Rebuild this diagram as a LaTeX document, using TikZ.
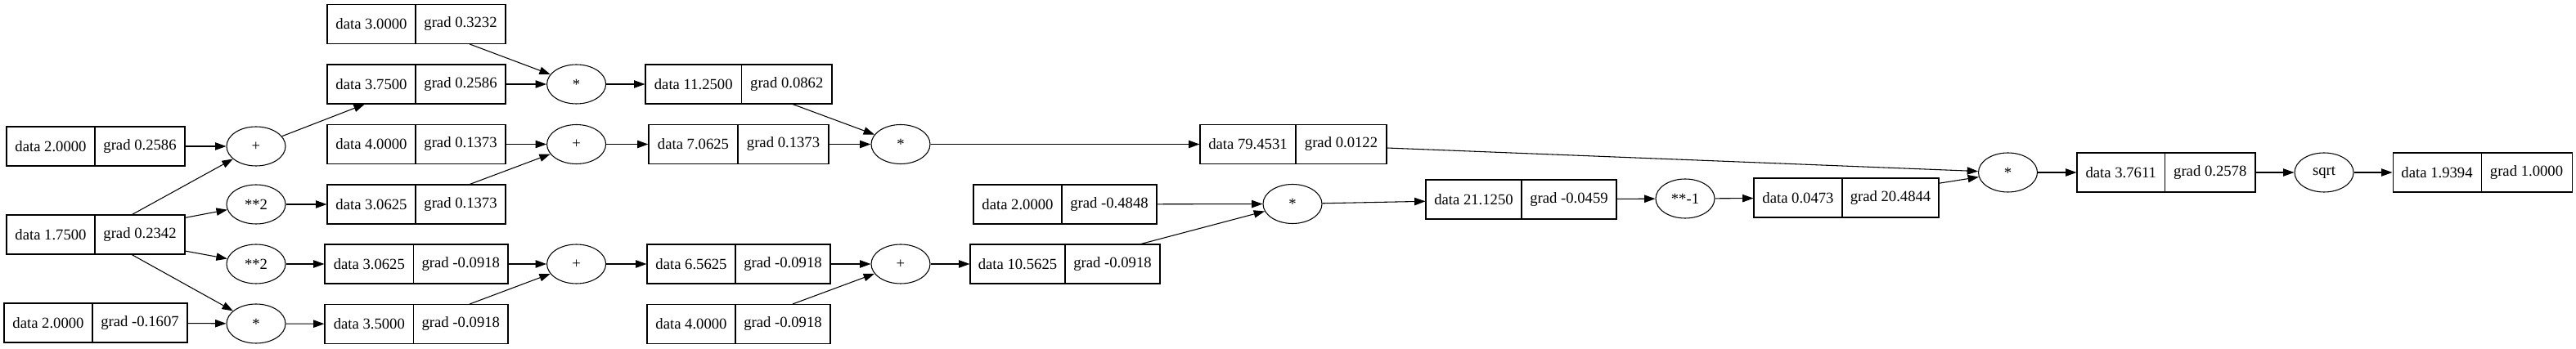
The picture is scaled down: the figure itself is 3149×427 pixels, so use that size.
\documentclass[tikz,border=0pt]{standalone}
\usepackage{fontspec}
\setmainfont{Liberation Serif}
\usetikzlibrary{shapes.geometric,arrows.meta}
\tikzset{
  recbox/.style={draw, line width=0.8pt, rectangle, minimum height=36pt, inner sep=0pt},
  recline/.style={line width=0.8pt},
  rectxt/.style={inner sep=0pt, font=\fontsize{14pt}{16pt}\selectfont},
  opnode/.style={draw, line width=0.8pt, ellipse, minimum width=54pt, minimum height=36pt, inner sep=0pt, font=\fontsize{14pt}{16pt}\selectfont},
  edge/.style={line width=0.8pt, -{Triangle[length=10pt,width=7pt]}}
}
\newcommand\recnode[7]{%
  \node[recbox, minimum width={(#4-#2)*0.75pt}] (#1) at ({(#2+#4)/2},#5) {};
  \draw[recline] (#3,#5) ++(0,-24) -- ++(0,48);
  \node[rectxt] (#1a) at ({(#2+#3)/2},#5) {#6};
  \node[rectxt] (#1b) at ({(#3+#4)/2},#5) {#7};
}
\begin{document}
\begin{tikzpicture}[x=0.75pt,y=-0.75pt]
\useasboundingbox (0,0) rectangle (3149,427);
% records
\recnode{R1}{8}{116}{226}{179}{data 2.0000}{grad 0.2586}
\recnode{R2}{8}{116}{226}{287}{data 1.7500}{grad 0.2342}
\recnode{R3}{5}{113}{229}{395}{data 2.0000}{grad -0.1607}
\recnode{R4}{400}{508}{618}{29.5}{data 3.0000}{grad 0.3232}
\recnode{R5}{400}{508}{618}{103}{data 3.7500}{grad 0.2586}
\recnode{R6}{400}{508}{618}{176.5}{data 4.0000}{grad 0.1373}
\recnode{R7}{400}{508}{618}{250}{data 3.0625}{grad 0.1373}
\recnode{R8}{397}{505.6}{621}{323}{data 3.0625}{grad -0.0918}
\recnode{R9}{397}{505.6}{621}{396.5}{data 3.5000}{grad -0.0918}
\recnode{R10}{789}{906.5}{1017}{103}{data 11.2500}{grad 0.0862}
\recnode{R11}{793}{902}{1013}{176.5}{data 7.0625}{grad 0.1373}
\recnode{R12}{791}{899}{1015}{323}{data 6.5625}{grad -0.0918}
\recnode{R13}{791}{899}{1015}{396.5}{data 4.0000}{grad -0.0918}
\recnode{R14}{1467}{1584}{1695}{176.5}{data 79.4531}{grad 0.0122}
\recnode{R15}{1190}{1298}{1414}{250}{data 2.0000}{grad -0.4848}
\recnode{R16}{1186}{1302}{1418}{323}{data 10.5625}{grad -0.0918}
\recnode{R17}{1743}{1860}{1976}{244}{data 21.1250}{grad -0.0459}
\recnode{R18}{2144}{2252}{2370}{242}{data 0.0473}{grad 20.4844}
\recnode{R19}{2539}{2646.5}{2757}{211}{data 3.7611}{grad 0.2578}
\recnode{R20}{2925}{3033}{3144}{211}{data 1.9394}{grad 1.0000}
% operations
\node[opnode] (O1) at (313,179) {+};
\node[opnode] (O2) at (313,250) {**2};
\node[opnode] (O3) at (313,323) {**2};
\node[opnode] (O4) at (313,396) {*};
\node[opnode] (O5) at (704.6,103) {*};
\node[opnode] (O6) at (704.6,176.5) {+};
\node[opnode] (O7) at (704.6,323) {+};
\node[opnode] (O8) at (1101,176.5) {*};
\node[opnode] (O9) at (1580,249.5) {*};
\node[opnode] (O10) at (1101,323) {+};
\node[opnode] (O11) at (2060,243) {**-1};
\node[opnode] (O12) at (2454.5,211) {*};
\node[opnode] (O13) at (2841,211) {sqrt};
% edges
\draw[edge] (R1) -- (O1);
\draw[edge] (R2) -- (O1);
\draw[edge] (R2) -- (O2);
\draw[edge] (R2) -- (O3);
\draw[edge] (R2) -- (O4);
\draw[edge] (R3) -- (O4);
\draw[edge] (O1) -- (R5);
\draw[edge] (O2) -- (R7);
\draw[edge] (O3) -- (R8);
\draw[edge] (O4) -- (R9);
\draw[edge] (R4) -- (O5);
\draw[edge] (R5) -- (O5);
\draw[edge] (R6) -- (O6);
\draw[edge] (R7) -- (O6);
\draw[edge] (R8) -- (O7);
\draw[edge] (R9) -- (O7);
\draw[edge] (O5) -- (R10);
\draw[edge] (O6) -- (R11);
\draw[edge] (O7) -- (R12);
\draw[edge] (R10) -- (O8);
\draw[edge] (R11) -- (O8);
\draw[edge] (R12) -- (O10);
\draw[edge] (R13) -- (O10);
\draw[edge] (O8) -- (R14);
\draw[edge] (O10) -- (R16);
\draw[edge] (R15) -- (O9);
\draw[edge] (R16) -- (O9);
\draw[edge] (O9) -- (R17);
\draw[edge] (R17) -- (O11);
\draw[edge] (O11) -- (R18);
\draw[edge] (R14) -- (O12);
\draw[edge] (R18) -- (O12);
\draw[edge] (O12) -- (R19);
\draw[edge] (R19) -- (O13);
\draw[edge] (O13) -- (R20);
\end{tikzpicture}
\end{document}
